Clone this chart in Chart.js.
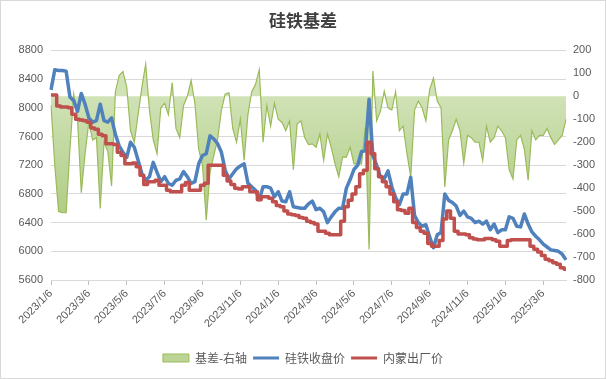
<!DOCTYPE html>
<html>
<head>
<meta charset="utf-8">
<script src="https://cdn.jsdelivr.net/npm/chart.js@4/dist/chart.umd.min.js"></script>
<style>
html,body{margin:0;padding:0;background:#fff;}
#wrap{width:606px;height:379px;position:relative;}
canvas{display:block;}
</style>
</head>
<body>
<div id="wrap"><canvas id="c" width="606" height="379"></canvas></div>
<script>
// x-axis tick labels (one every 10 points)
const tickLabels = ['2023/1/6','2023/3/6','2023/5/6','2023/7/6','2023/9/6','2023/11/6','2024/1/6','2024/3/6','2024/5/6','2024/7/6','2024/9/6','2024/11/6','2025/1/6','2025/3/6'];

// 基差 (right axis)
const basis = [
 -40,-300,-502,-507,-507,-230,10,-100,-420,-250,
 -110,-190,-180,-488,-200,-240,-390,20,90,108,
 40,-150,-200,-80,40,140,-60,-190,-250,-50,
 -30,-80,60,-140,-180,-40,0,70,-30,-230,
 -300,-540,-330,-258,-187,-60,10,15,-140,-200,
 -100,-279,-80,20,51,116,-200,-40,-130,-30,
 -100,-114,-150,-107,-320,-121,-107,-179,-210,-207,
 -222,-164,-279,-164,-222,-294,-351,-265,-265,-222,
 -294,-294,-294,-135,-667,110,-107,-64,22,-50,
 -60,20,-150,-130,-250,-351,-60,-21,-50,-107,
 30,80,-21,-50,-395,-190,-150,-100,-150,-290,
 -170,-180,-200,-200,-280,-130,-200,-180,-130,-150,
 -180,-320,-360,-190,-170,-230,-365,-150,-190,-170,
 -170,-140,-180,-210,-190,-170,-100
];

// 硅铁收盘价 (left axis)
const closePrice = [
 8250,8530,8520,8520,8510,8150,8100,7950,8200,8050,
 7860,7800,7820,8050,7820,7800,7860,7630,7470,7380,
 7310,7520,7450,7270,7080,6990,7040,7240,7100,6970,
 7040,6945,6920,6990,7010,7110,7040,6945,6970,7220,
 7335,7360,7610,7565,7500,7380,7130,7010,7080,7150,
 7190,7220,6950,6900,6850,6720,6900,6900,6880,6760,
 6830,6700,6690,6830,6620,6610,6600,6600,6660,6700,
 6580,6600,6550,6400,6480,6550,6600,6600,6880,7000,
 7140,7200,7390,7400,8120,7330,7200,7040,7010,7120,
 6900,6750,6650,6800,6800,7030,6500,6400,6350,6370,
 6200,6050,6230,6260,6800,6710,6680,6630,6500,6560,
 6480,6460,6400,6420,6380,6420,6300,6380,6260,6300,
 6300,6480,6460,6350,6340,6520,6380,6270,6210,6160,
 6100,6060,6020,6010,6000,5960,5880
];

// 内蒙出厂价 (left axis)
const factoryPrice = [
 8180,8180,8025,8010,8010,8000,7910,7840,7830,7820,
 7800,7720,7700,7630,7610,7500,7500,7490,7380,7335,
 7220,7220,7230,7180,7060,6930,6970,6970,6990,6920,
 6920,6850,6830,6830,6830,6920,6960,6850,6850,6850,
 6920,6950,7200,7200,7200,7200,7060,6980,6930,6880,
 6870,6900,6900,6830,6830,6720,6760,6760,6740,6690,
 6640,6620,6560,6520,6510,6500,6470,6460,6420,6400,
 6380,6280,6280,6250,6230,6230,6230,6420,6620,6710,
 6800,6900,7080,7130,7520,7360,7150,7040,6970,6900,
 6800,6690,6580,6570,6530,6600,6400,6330,6280,6250,
 6110,6070,6070,6150,6450,6560,6460,6280,6240,6240,
 6230,6190,6170,6160,6160,6180,6180,6160,6140,6070,
 6070,6150,6160,6160,6160,6160,6160,6070,6030,5990,
 5940,5890,5870,5840,5820,5770,5750
];

const seriesNames = ['基差-右轴','硅铁收盘价','内蒙出厂价'];
const labels = closePrice.map((_, i) => (i % 10 === 0 && tickLabels[i / 10]) ? tickLabels[i / 10] : '');

const numFont = 'Liberation Sans, "Noto Sans CJK SC", sans-serif';
const cjkFont = '"Noto Sans CJK SC", "Liberation Sans", sans-serif';

const borderPlugin = {
  id: 'outerBorder',
  afterDraw(chart) {
    const c = chart.ctx;
    c.save();
    c.strokeStyle = '#d9d9d9';
    c.lineWidth = 1;
    c.strokeRect(0.5, 0.5, chart.width - 1, chart.height - 1);
    c.restore();
  }
};

function greenFill(ctx) {
  const chart = ctx.chart;
  if (!chart.chartArea || !chart.scales.y1) return '#c6dba6';
  const s = chart.scales.y1;
  const g = chart.ctx.createLinearGradient(0, s.getPixelForValue(0), 0, s.getPixelForValue(-700));
  g.addColorStop(0, '#d0e2b6');
  g.addColorStop(1, '#a4c574');
  return g;
}

new Chart(document.getElementById('c'), {
  type: 'line',
  data: {
    labels: labels,
    datasets: [
      {
        label: seriesNames[0], data: basis, yAxisID: 'y1',
        borderColor: '#9bbb59', borderWidth: 1.2, backgroundColor: greenFill,
        fill: 'origin', pointRadius: 0, tension: 0, order: 2, pointStyle: 'rect'
      },
      {
        label: seriesNames[1], data: closePrice, yAxisID: 'y',
        borderColor: '#4f81bd', borderWidth: 3.5, backgroundColor: '#4f81bd',
        fill: false, pointRadius: 0, tension: 0, order: 1, pointStyle: 'line',
        borderJoinStyle: 'round'
      },
      {
        label: seriesNames[2], data: factoryPrice, yAxisID: 'y',
        borderColor: '#c0504d', borderWidth: 3.5, backgroundColor: '#c0504d',
        fill: false, pointRadius: 0, tension: 0, order: 0, pointStyle: 'line',
        stepped: 'middle', borderJoinStyle: 'round'
      }
    ]
  },
  options: {
    responsive: false,
    animation: false,
    devicePixelRatio: 1,
    layout: { padding: { left: 0, right: 0, top: 0, bottom: 5 } },
    plugins: {
      title: {
        display: true, text: '硅铁基差', color: '#404040',
        font: { family: cjkFont, size: 17, weight: 'bold' },
        padding: { top: 10, bottom: 20 }
      },
      legend: {
        display: true, position: 'bottom',
        labels: {
          usePointStyle: true, pointStyleWidth: 26, boxHeight: 8, padding: 6,
          color: '#595959', font: { family: cjkFont, size: 12 },
          generateLabels(chart) {
            return chart.data.datasets.map((ds, i) => ({
              text: ds.label,
              fillStyle: i === 0 ? '#bcd596' : ds.borderColor,
              strokeStyle: ds.borderColor,
              lineWidth: i === 0 ? 1 : 3,
              pointStyle: i === 0 ? 'rect' : 'line',
              hidden: false, datasetIndex: i, fontColor: '#595959'
            }));
          }
        }
      },
      tooltip: { enabled: false }
    },
    scales: {
      x: {
        type: 'category', offset: false,
        ticks: {
          autoSkip: false, maxRotation: 45, minRotation: 45, padding: 2,
          color: '#595959', font: { family: numFont, size: 11 },
          callback: function (v, i) { return labels[i]; }
        },
        grid: {
          drawOnChartArea: false, drawTicks: true, tickLength: 5,
          color: (c) => (c.index % 10 === 0 ? '#bfbfbf' : 'rgba(0,0,0,0)')
        },
        border: { display: true, color: '#d9d9d9' },
        afterFit: (s) => { s.height = 66; }
      },
      y: {
        position: 'left', min: 5600, max: 8800,
        ticks: {
          stepSize: 400, padding: 8, color: '#595959', font: { family: numFont, size: 11 },
          callback: (v) => String(v)
        },
        grid: { color: '#d9d9d9', drawTicks: false },
        border: { display: false },
        afterFit: (s) => { s.width = 51; }
      },
      y1: {
        position: 'right', min: -800, max: 200,
        ticks: {
          stepSize: 100, padding: 7, color: '#595959', font: { family: numFont, size: 11 },
          callback: (v) => String(v)
        },
        grid: { drawOnChartArea: false, drawTicks: false },
        border: { display: false },
        afterFit: (s) => { s.width = 40; }
      }
    }
  },
  plugins: [borderPlugin]
});
</script>
</body>
</html>
